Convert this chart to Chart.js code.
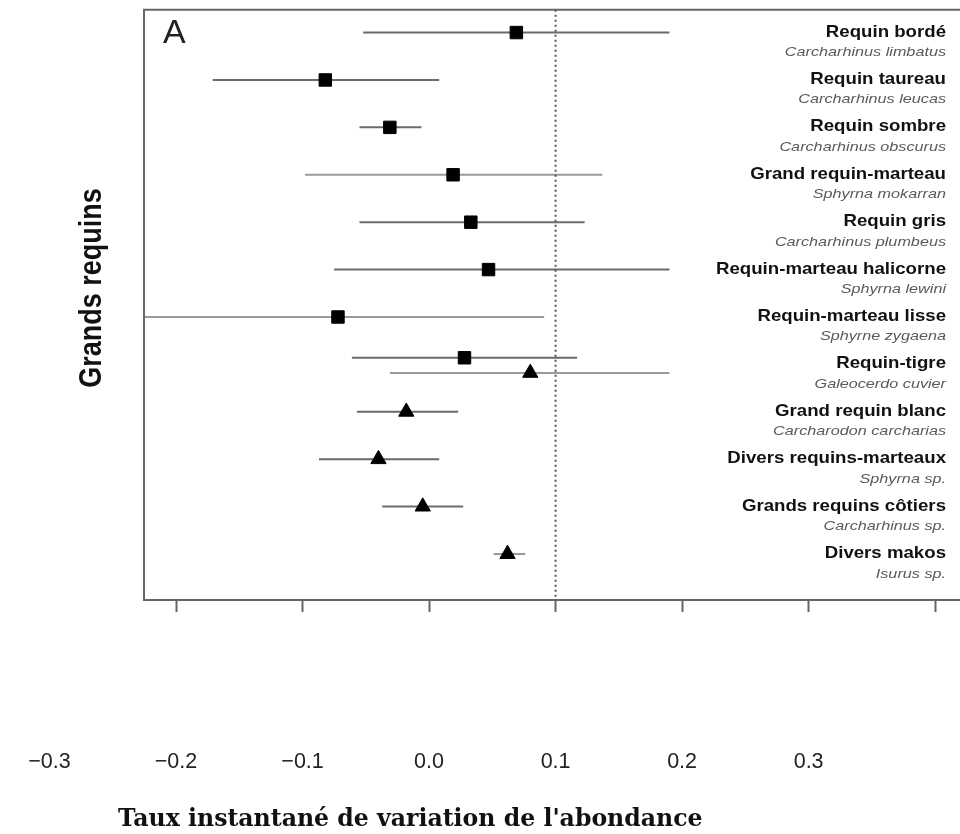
<!DOCTYPE html>
<html>
<head>
<meta charset="utf-8">
<script src="https://cdn.jsdelivr.net/npm/chart.js@4.4.1/dist/chart.umd.min.js"></script>
<style>
  html, body { margin: 0; padding: 0; background: #ffffff; overflow: hidden; }
  canvas { display: block; }
</style>
</head>
<body>
<canvas id="chart" width="960" height="834"></canvas>
<script>
// Species rows, top to bottom
const commonNames = [
  'Requin bordé', 'Requin taureau', 'Requin sombre', 'Grand requin-marteau',
  'Requin gris', 'Requin-marteau halicorne', 'Requin-marteau lisse', 'Requin-tigre',
  'Grand requin blanc', 'Divers requins-marteaux', 'Grands requins côtiers', 'Divers makos'
];
const latinNames = [
  'Carcharhinus limbatus', 'Carcharhinus leucas', 'Carcharhinus obscurus', 'Sphyrna mokarran',
  'Carcharhinus plumbeus', 'Sphyrna lewini', 'Sphyrne zygaena', 'Galeocerdo cuvier',
  'Carcharodon carcharias', 'Sphyrna sp.', 'Carcharhinus sp.', 'Isurus sp.'
];
const labelRows = [0, 1, 2, 3, 4, 5, 6, 7, 8, 9, 10, 11];

// Estimates shown with squares
const squareRows = [0, 1, 2, 3, 4, 5, 6, 6.86];
const squareEst  = [0.069, -0.082, -0.031, 0.019, 0.033, 0.047, -0.072, 0.028];
const squareLow  = [-0.052, -0.171, -0.055, -0.098, -0.055, -0.075, -0.260, -0.061];
const squareHigh = [0.190, 0.008, -0.006, 0.137, 0.123, 0.190, 0.091, 0.117];
const squareBarShade = ['dark', 'dark', 'dark', 'light', 'dark', 'dark', 'light', 'dark'];

// Estimates shown with triangles
const triangleRows = [7.18, 8, 9, 10, 11];
const triangleEst  = [0.080, -0.018, -0.040, -0.005, 0.062];
const triangleLow  = [-0.031, -0.057, -0.087, -0.037, 0.051];
const triangleHigh = [0.190, 0.023, 0.008, 0.027, 0.076];
const triangleBarShade = ['light', 'dark', 'dark', 'dark', 'light'];

// Horizontal axis
const tickValues = [-0.3, -0.2, -0.1, 0.0, 0.1, 0.2, 0.3, 0.4];
const tickLabels = ['\u22120.3', '\u22120.2', '\u22120.1', '0.0', '0.1', '0.2', '0.3', ''];
const xMin = -0.3;
const xMax = 0.4119;
const frameLeftValue = -0.2253;
const referenceValue = 0.1;

const yMin = -0.48;
const yMax = 11.97;

const shades = { dark: '#6a6a6a', light: '#9a9a9a' };

function toPoints(xs, ys) {
  return xs.map((x, i) => ({ x: x, y: ys[i] }));
}

// Frame, whiskers and text drawn from the chart's scales
const speciesPlot = {
  id: 'speciesPlot',
  beforeDatasetsDraw(chart) {
    const { ctx, chartArea, scales } = chart;
    const xs = scales.x, ys = scales.y;
    const left = xs.getPixelForValue(frameLeftValue);
    ctx.save();
    ctx.beginPath();
    ctx.rect(left, chartArea.top, chart.width - left, chartArea.bottom - chartArea.top);
    ctx.clip();
    ctx.lineCap = 'butt';
    const drawBars = (rows, lo, hi, shade) => {
      rows.forEach((r, i) => {
        const y = ys.getPixelForValue(r);
        ctx.strokeStyle = shades[shade[i]];
        ctx.lineWidth = 2;
        ctx.beginPath();
        ctx.moveTo(xs.getPixelForValue(lo[i]), y);
        ctx.lineTo(xs.getPixelForValue(hi[i]), y);
        ctx.stroke();
      });
    };
    drawBars(squareRows, squareLow, squareHigh, squareBarShade);
    drawBars(triangleRows, triangleLow, triangleHigh, triangleBarShade);
    ctx.restore();
  },
  afterDraw(chart) {
    const { ctx, chartArea, scales } = chart;
    const xs = scales.x, ys = scales.y;
    const left = xs.getPixelForValue(frameLeftValue);
    const right = chart.width + 2;
    ctx.save();
    // frame: top, left and bottom edges (the right edge runs off the page)
    ctx.strokeStyle = '#666666';
    ctx.lineWidth = 2;
    ctx.beginPath();
    ctx.moveTo(right, chartArea.top);
    ctx.lineTo(left, chartArea.top);
    ctx.lineTo(left, chartArea.bottom);
    ctx.lineTo(right, chartArea.bottom);
    ctx.stroke();

    // panel letter
    ctx.fillStyle = '#222222';
    ctx.font = '34px "Liberation Sans", Arial, sans-serif';
    ctx.textAlign = 'left';
    ctx.textBaseline = 'alphabetic';
    ctx.fillText('A', left + 19, chartArea.top + 33);

    // species names, right aligned inside the panel
    const textRight = 946;
    labelRows.forEach((r, i) => {
      const y = ys.getPixelForValue(r);
      ctx.save();
      ctx.translate(textRight, y + 4);
      ctx.scale(1.13, 1);
      ctx.textAlign = 'right';
      ctx.fillStyle = '#111111';
      ctx.font = 'bold 16.5px "Liberation Sans", Arial, sans-serif';
      ctx.fillText(commonNames[i], 0, 0);
      ctx.restore();

      ctx.save();
      ctx.translate(textRight, y + 23.5);
      ctx.scale(1.2, 1);
      ctx.textAlign = 'right';
      ctx.fillStyle = '#5a5a5a';
      ctx.font = 'italic 13.5px "Liberation Sans", Arial, sans-serif';
      ctx.fillText(latinNames[i], 0, 0);
      ctx.restore();
    });

    // vertical axis title
    ctx.save();
    ctx.translate(92, 288);
    ctx.rotate(-Math.PI / 2);
    ctx.scale(1, 1.15);
    ctx.textAlign = 'center';
    ctx.textBaseline = 'middle';
    ctx.fillStyle = '#111111';
    ctx.font = 'bold 27px "Liberation Sans", Arial, sans-serif';
    ctx.fillText('Grands requins', 0, 0);
    ctx.restore();

    // horizontal axis title
    ctx.fillStyle = '#111111';
    ctx.font = 'bold 23.6px "DejaVu Serif", serif';
    ctx.textAlign = 'left';
    ctx.textBaseline = 'alphabetic';
    ctx.fillText("Taux instantané de variation de l'abondance", 118, 826);
    ctx.restore();
  }
};

new Chart(document.getElementById('chart'), {
  type: 'scatter',
  data: {
    datasets: [
      {
        label: 'référence',
        type: 'line',
        data: [{ x: referenceValue, y: yMin }, { x: referenceValue, y: yMax }],
        borderColor: '#555555',
        borderWidth: 2,
        borderDash: [2, 3],
        pointRadius: 0,
        fill: false,
        order: 3
      },
      {
        label: 'carrés',
        data: toPoints(squareEst, squareRows),
        pointStyle: 'rect',
        pointRadius: 8.8,
        backgroundColor: '#000000',
        borderColor: '#000000',
        borderWidth: 1,
        order: 1
      },
      {
        label: 'triangles',
        data: toPoints(triangleEst, triangleRows),
        pointStyle: 'triangle',
        pointRadius: 8.8,
        backgroundColor: '#000000',
        borderColor: '#000000',
        borderWidth: 1,
        order: 1
      }
    ]
  },
  options: {
    responsive: false,
    animation: false,
    events: [],
    layout: { padding: { left: 49.5, top: 7, right: 0, bottom: 0 } },
    plugins: {
      legend: { display: false },
      tooltip: { enabled: false }
    },
    scales: {
      x: {
        type: 'linear',
        min: xMin,
        max: xMax,
        afterBuildTicks(scale) {
          scale.ticks = tickValues.map(v => ({ value: v }));
        },
        afterFit(scale) {
          // labels sit far below the ticks; keep the plot width unchanged
          scale.height = 234;
          scale.paddingLeft = 0;
          scale.paddingRight = 0;
        },
        border: { display: false },
        grid: {
          drawOnChartArea: false,
          drawTicks: true,
          tickLength: 12,
          tickWidth: 2,
          tickColor: (c) => (c.tick && c.tick.value < frameLeftValue ? 'rgba(0,0,0,0)' : '#666666')
        },
        ticks: {
          autoSkip: false,
          maxRotation: 0,
          padding: 137,
          color: '#222222',
          font: { family: '"Liberation Sans", Arial, sans-serif', size: 21.5 },
          callback: (value, index) => tickLabels[index]
        }
      },
      y: {
        type: 'linear',
        display: false,
        reverse: true,
        min: yMin,
        max: yMax
      }
    }
  },
  plugins: [speciesPlot]
});
</script>
</body>
</html>
